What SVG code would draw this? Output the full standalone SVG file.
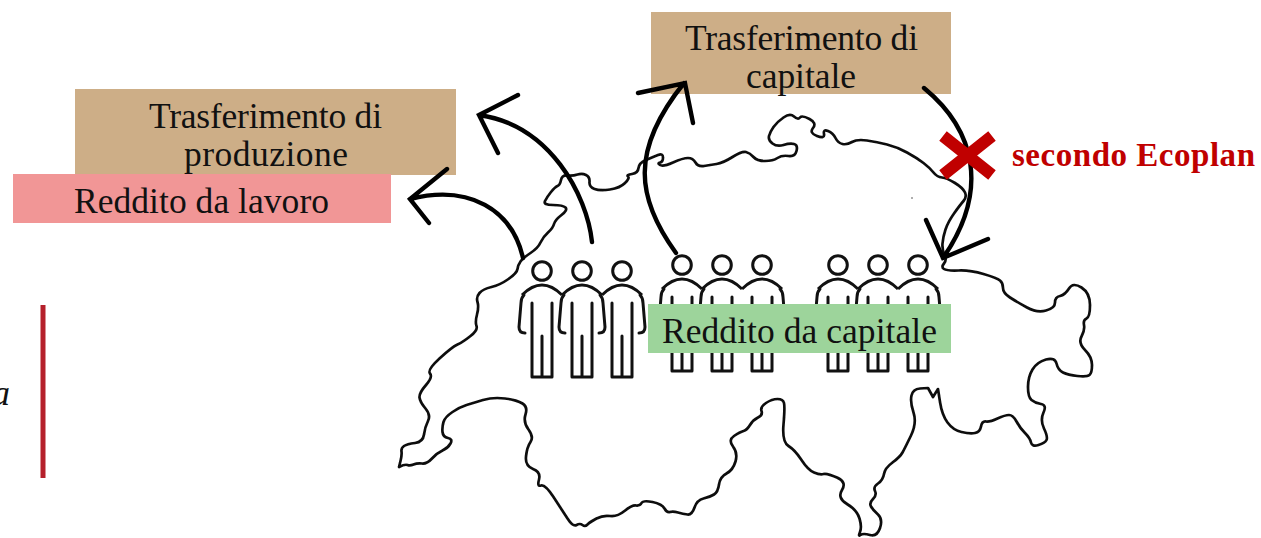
<svg xmlns="http://www.w3.org/2000/svg" width="1261" height="538" viewBox="0 0 1261 538">
<style>
.label{font-family:"Liberation Serif","Times New Roman",serif;font-size:35.5px;fill:#111}
.map{fill:none;stroke:#111;stroke-width:2.7;stroke-linejoin:round;stroke-linecap:round}
.person{fill:none;stroke:#111;stroke-width:3;stroke-linecap:round;stroke-linejoin:round}
.arrow{fill:none;stroke:#000;stroke-width:4.4;stroke-linecap:round;stroke-linejoin:miter}
</style>
<defs>
<filter id="soft" x="-2%" y="-2%" width="104%" height="104%"><feGaussianBlur stdDeviation="0.4"/></filter>
<g id="body" class="person">
<circle cx="0" cy="0" r="9.3"/>
<path d="M-20,24C-12,16 -6,14 0,14C6,14 12,16 20,24" stroke-linecap="butt"/>
<path d="M-10,32V106H10V32M0,65V106"/>
</g>
<path id="armL" class="person" d="M-18,24Q-21,27 -21,32L-23,56Q-23,62 -17,62"/>
<path id="armR" class="person" d="M18,24Q21,27 21,32L23,56Q23,62 17,62"/>
</defs>
<rect width="1261" height="538" fill="#fff"/>
<g id="map" filter="url(#soft)">
<path class="map" d="M400.5,461Q402,455 401.5,451.5Q401,448 404,446Q407,444 415,443Q423,442 424,434.5Q425,427 428,421Q431,415 425.5,408.5Q420,402 419.5,397.5Q419,393 426,385Q433,377 430,373.5Q427,370 439.5,358.5Q452,347 457.5,344.5Q463,342 470.5,336Q478,330 476.5,326Q475,322 477,314.5Q479,307 477.5,302Q476,297 479.5,293Q483,289 491.5,287Q500,285 508.5,279Q517,273 517.5,269Q518,265 520.5,261.5Q523,258 530.5,253Q538,248 540.5,242.5Q543,237 548,232.5Q553,228 554,224Q555,220 561.5,215Q568,210 565.5,207.5Q563,205 553,205Q543,205 545,201Q547,197 551,192Q555,187 557.5,186Q560,185 561,180Q562,175 567.5,175.5Q573,176 577.5,174.5Q582,173 586,175Q590,177 589.5,182Q589,187 594.5,189Q600,191 610,189.5Q620,188 625,183Q630,178 628,176.5Q626,175 632,174Q638,173 638.5,168Q639,163 646,160Q653,157 658,155Q663,153 663,157.5Q663,162 660,162.5Q657,163 660,165Q663,167 673,162.5Q683,158 688,158Q693,158 695.5,162.5Q698,167 704,166Q710,165 716.5,164Q723,163 732.5,157Q742,151 746,152Q750,153 753.5,157Q757,161 765,161Q773,161 777.5,158Q782,155 788.5,156Q795,157 796.5,151Q798,145 794,144Q790,143 783.5,145Q777,147 772.5,143.5Q768,140 769,136Q770,132 773.5,127Q777,122 783.5,117.5Q790,113 794,116.5Q798,120 800,117.5Q802,115 809.5,119Q817,123 813,128Q809,133 817,136Q825,139 824,134Q823,129 828,131Q833,133 835.5,138Q838,143 842.5,144Q847,145 852,142Q857,139 867,140.5Q877,142 887,144.5Q897,147 907,152.5Q917,158 923.5,163Q930,168 933.5,172.5Q937,177 942,177.5Q947,178 955,183Q963,188 965,192.5Q967,197 963.5,201Q960,205 954,213.5Q948,222 945.5,229.5Q943,237 942.5,243.5Q942,250 944.5,255Q947,260 944,263.5Q941,267 944,269Q947,271 958.5,270.5Q970,270 983.5,274Q997,278 1000,280.5Q1003,283 1003,288Q1003,293 1010,297.5Q1017,302 1027,307.5Q1037,313 1046,310.5Q1055,308 1055,302.5Q1055,297 1060,296Q1065,295 1069,288.5Q1073,282 1081.5,287.5Q1090,293 1090,305Q1090,317 1086.5,318.5Q1083,320 1084,325Q1085,330 1081.5,336.5Q1078,343 1085,350Q1092,357 1092,365Q1092,373 1089.5,375Q1087,377 1077.5,376Q1068,375 1063,372.5Q1058,370 1056.5,363.5Q1055,357 1046,359.5Q1037,362 1032.5,369.5Q1028,377 1028,387Q1028,397 1031.5,400Q1035,403 1041,404Q1047,405 1043.5,412.5Q1040,420 1044,428.5Q1048,437 1046.5,440Q1045,443 1038.5,445Q1032,447 1031,442.5Q1030,438 1025,433Q1020,428 1016.5,421.5Q1013,415 1009,415Q1005,415 997.5,418.5Q990,422 986,421.5Q982,421 981,426.5Q980,432 975,433Q970,434 961.5,432Q953,430 947.5,422.5Q942,415 940,402L938,389L933,397L928,388L920,388.5Q913,389 911.5,395.5Q910,402 913.5,412.5Q917,423 911,435.5Q905,448 902.5,452.5Q900,457 892.5,462.5Q885,468 884,474Q883,480 878,483.5Q873,487 875,491Q877,495 873,499Q869,503 871,506.5Q873,510 878,514.5Q883,519 880,528Q877,537 870,535Q863,533 860.5,535Q858,537 860,532Q862,527 859.5,518.5Q857,510 847,504Q837,498 842,490Q847,482 837,477.5Q827,473 823.5,474Q820,475 814,472.5Q808,470 801.5,460Q795,450 788.5,446Q782,442 783.5,424.5Q785,407 784,403Q783,399 777.5,399Q772,399 766,403Q760,407 761.5,411Q763,415 758,417.5Q753,420 750,425Q747,430 743.5,431Q740,432 734,436Q728,440 733,446.5Q738,453 735.5,461.5Q733,470 726.5,473.5Q720,477 719,484.5Q718,492 714,494.5Q710,497 703.5,498.5Q697,500 694.5,507.5Q692,515 687.5,514.5Q683,514 678,512.5Q673,511 670,512Q667,513 664.5,508.5Q662,504 652.5,502Q643,500 641.5,503Q640,506 636,505.5Q632,505 624.5,511Q617,517 610,516Q603,515 596.5,518.5Q590,522 587.5,524.5Q585,527 582.5,525Q580,523 576.5,525Q573,527 567.5,518.5Q562,510 553.5,497Q545,484 541,485.5Q537,487 539,479.5Q541,472 533,469Q525,466 526,456.5Q527,447 530.5,442Q534,437 528.5,429.5Q523,422 525.5,414.5Q528,407 522.5,403.5Q517,400 505,398.5Q493,397 483,400Q473,403 466.5,405Q460,407 452.5,412Q445,417 443.5,422Q442,427 442.5,432Q443,437 448,438Q453,439 450.5,443.5Q448,448 442.5,450.5Q437,453 432,458.5Q427,464 422,463.5Q417,463 413.5,464.5Q410,466 407.5,465Q405,464 399,467L400.5,461"/>
<circle cx="912" cy="198" r="0.8" fill="#444"/>
</g>
<g id="people-left">
<g id="p1"><use href="#body" x="542" y="271"/><use href="#armL" x="542" y="271"/></g>
<g id="p2"><use href="#body" x="582" y="271"/><use href="#armL" x="582" y="271"/><use href="#armR" x="582" y="271"/></g>
<g id="p3"><use href="#body" x="622" y="271"/><use href="#armR" x="622" y="271"/></g>
</g>
<g id="people-middle">
<g id="p4"><use href="#body" x="682" y="265"/><use href="#armL" x="682" y="265"/></g>
<g id="p5"><use href="#body" x="722" y="265"/><use href="#armL" x="722" y="265"/></g>
<g id="p6"><use href="#body" x="762" y="265"/><use href="#armR" x="762" y="265"/></g>
</g>
<g id="people-right">
<g id="p7"><use href="#body" x="838" y="265"/><use href="#armL" x="838" y="265"/></g>
<g id="p8"><use href="#body" x="878" y="265"/><use href="#armL" x="878" y="265"/></g>
<g id="p9"><use href="#body" x="918" y="265"/><use href="#armR" x="918" y="265"/></g>
</g>
<g id="node-trasf-capitale">
<rect x="651" y="12" width="300" height="82" fill="#cdae87"/>
<text class="label" x="685" y="50" textLength="233">Trasferimento di</text>
<text class="label" x="746" y="88" textLength="110">capitale</text>
</g>
<g id="node-trasf-produzione">
<rect x="75" y="89" width="381" height="86" fill="#cdae87"/>
<text class="label" x="149" y="128" textLength="233">Trasferimento di</text>
<text class="label" x="184" y="166" textLength="164">produzione</text>
</g>
<g id="node-reddito-lavoro">
<rect x="13" y="174" width="378" height="49" fill="#f19696"/>
<text class="label" x="74" y="213" textLength="255">Reddito da lavoro</text>
</g>
<g id="node-reddito-capitale">
<rect x="648" y="304" width="303" height="49" fill="#9dd49b"/>
<text class="label" x="662" y="343" textLength="275">Reddito da capitale</text>
</g>
<g id="connectors">
<path class="arrow" d="M592,242C587,195 550,125 479,115M518,95L479,115L498,153"/>
<path class="arrow" d="M523,258C512,210 470,184 410,199M447,169L410,199L429,223"/>
<path class="arrow" d="M676,253C636,198 630,150 684,83M638,93L685,83L693,123"/>
<path class="arrow" d="M924,88C975,130 990,190 943,258M926,220L943,258L988,239"/>
</g>
<g id="node-secondo-ecoplan">
<path d="M943,136L992,175M992,136L943,175" fill="none" stroke="#c00000" stroke-width="12"/>
<text x="1012" y="166" font-family="'Liberation Serif','Times New Roman',serif" font-size="33" font-weight="bold" fill="#c00000" textLength="243">secondo Ecoplan</text>
</g>
<g id="side-note">
<line x1="43" y1="305" x2="43" y2="478" stroke="#b5202b" stroke-width="5"/>
<text x="-8" y="405" font-family="'Liberation Serif','Times New Roman',serif" font-size="36" font-style="italic" fill="#111">a</text>
</g>
</svg>
